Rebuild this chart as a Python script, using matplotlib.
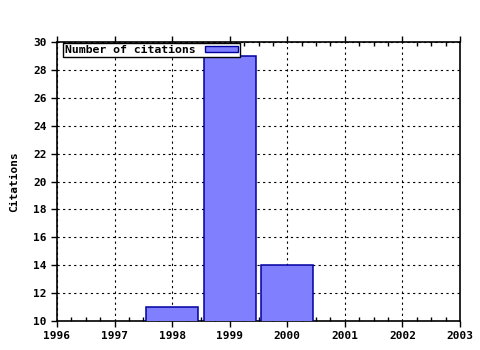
import matplotlib
matplotlib.use("Agg")
import matplotlib.pyplot as plt
from matplotlib.ticker import MultipleLocator
from matplotlib.patches import Patch

years = [1998, 1999, 2000]
citations = [11, 29, 14]

plt.rcParams["font.family"] = "DejaVu Sans Mono"
plt.rcParams["font.weight"] = "bold"
plt.rcParams["font.size"] = 8

fig = plt.figure(figsize=(4.8, 3.5), dpi=100)
ax = fig.add_axes([57 / 480, 1 - 321 / 350, (460 - 57) / 480, (321 - 42) / 350])

ax.bar(years, citations, width=0.9, bottom=0, color="#8080ff", edgecolor="#0000a0",
       linewidth=1.1, zorder=3)

ax.set_xlim(1996, 2003)
ax.set_ylim(10, 30)
ax.xaxis.set_major_locator(MultipleLocator(1))
ax.xaxis.set_minor_locator(MultipleLocator(0.25))
ax.yaxis.set_major_locator(MultipleLocator(2))
ax.tick_params(axis="x", which="major", direction="out", length=4, width=1, top=True)
ax.tick_params(axis="x", which="minor", direction="in", length=3, width=1, top=True)
ax.tick_params(axis="y", which="major", direction="out", length=4, width=1, right=False)
for lab in ax.get_xticklabels() + ax.get_yticklabels():
    lab.set_fontweight("bold")
ax.grid(True, which="major", color="black", linestyle=(0, (2, 3)), linewidth=0.8, zorder=0)
for s in ax.spines.values():
    s.set_linewidth(1.2)

ax.set_ylabel("Citations", fontweight="bold", labelpad=10)

handle = Patch(facecolor="#8080ff", edgecolor="#0000a0")
leg = ax.legend([handle], ["Number of citations"], loc="upper left", bbox_to_anchor=(0.015, 0.995),
                frameon=True, fancybox=False, edgecolor="black", framealpha=1,
                borderpad=0.15, handlelength=2.9, handleheight=0.5, handletextpad=0.8,
                borderaxespad=0, markerfirst=False, prop={"weight": "bold", "size": 8.25})
leg.get_frame().set_linewidth(1)

fig.savefig("out.png", dpi=100)
